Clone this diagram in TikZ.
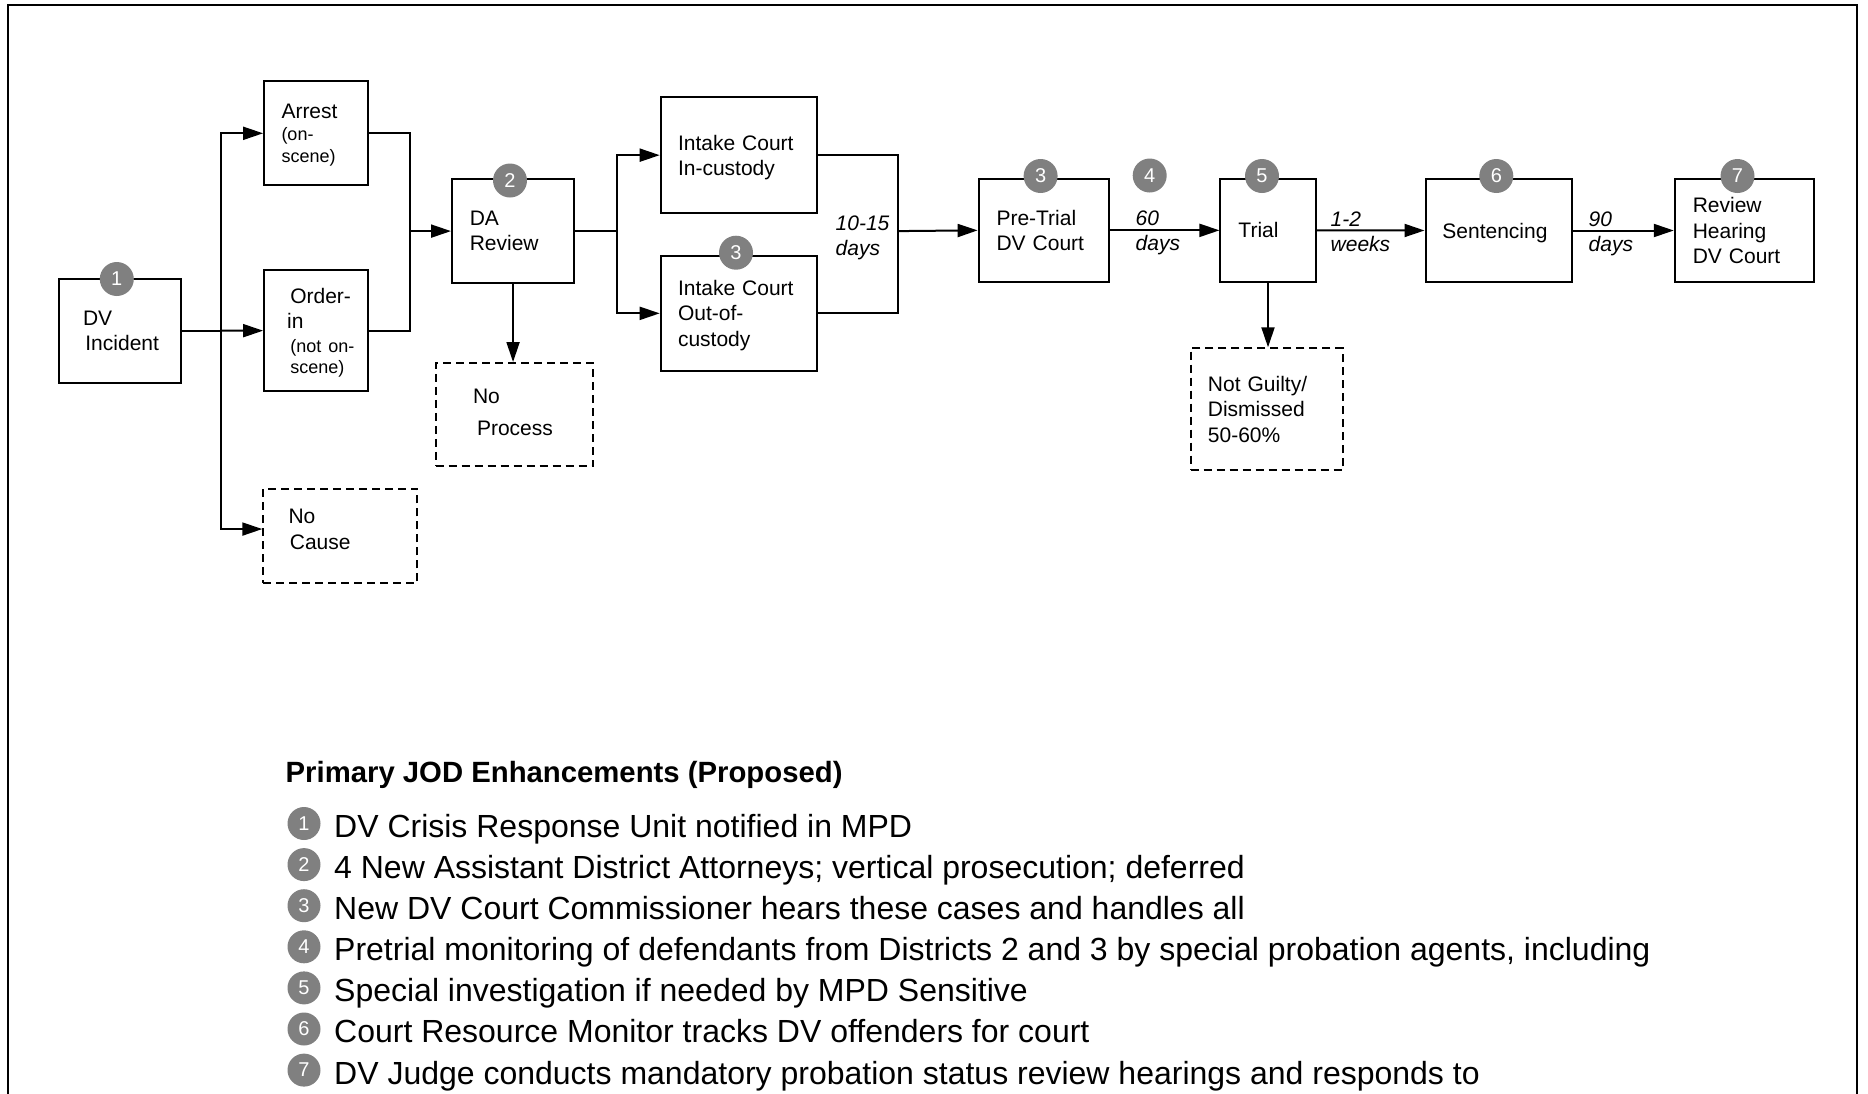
\documentclass[tikz,border=0pt]{standalone}
\usepackage{fontspec}
\setmainfont{Liberation Sans}
\usetikzlibrary{arrows.meta}
\definecolor{numgray}{HTML}{808080}
\begin{document}
\begin{tikzpicture}[x=1pt,y=-1pt,
  box/.style={draw, line width=2pt, align=left, inner ysep=0pt,
    font=\fontsize{21}{25.5}\selectfont},
  dbox/.style={box, dash pattern=on 8pt off 5pt},
  num/.style={circle, fill=numgray, minimum size=34pt, inner sep=0pt,
    text=white, font=\fontsize{20}{20}\selectfont},
  lnum/.style={num, minimum size=33pt},
  arr/.style={line width=2pt, -{Triangle[length=20pt,width=13pt]}},
  ln/.style={line width=2pt},
  lab/.style={font=\fontsize{21}{25}\selectfont\itshape, align=left,
    anchor=base west, inner sep=0pt},
  legtxt/.style={font=\fontsize{32}{36}\selectfont, anchor=base west, inner sep=0pt},
  legtitle/.style={font=\fontsize{29.3}{34}\selectfont\bfseries, anchor=base west, inner sep=0pt}
]
\useasboundingbox (0,0) rectangle (1868,1093);
% frame
\draw[line width=2pt] (8,1100) -- (8,5) -- (1857,5) -- (1857,1100);

% boxes
\node[box, minimum width=122.2pt, minimum height=104pt, inner xsep=24.5pt, text width=73.2pt]
  (inc) at (119.6,330.7) {\mbox{DV}\\\mbox{\hspace*{2.4pt}Incident}};
\node[box, minimum width=104pt, minimum height=104pt, inner xsep=17.4pt, text width=69.2pt, text depth=44.5pt]
  (arrest) at (316.1,133.3) {\mbox{Arrest}\\[-3pt]\mbox{\fontsize{18}{21}\selectfont (on-}\\[-3.5pt]\mbox{\fontsize{18}{21}\selectfont scene)}};
\node[box, minimum width=104pt, minimum height=121.3pt, inner xsep=23pt, text width=58pt, text depth=70.5pt]
  (orderin) at (316.1,330.65) {\mbox{\hspace*{3.2pt}Order-}\\\mbox{in}\\[-2pt]\mbox{\hspace*{3.2pt}\fontsize{18}{21}\selectfont (not on-}\\[-4pt]\mbox{\hspace*{3.2pt}\fontsize{18}{21}\selectfont scene)}};
\node[dbox, minimum width=153.9pt, minimum height=94.7pt, inner xsep=25.2pt, text width=103.5pt]
  (nocause) at (340.25,536.05) {\mbox{No}\\\mbox{\hspace*{1.4pt}Cause}\\[-11.5pt]\mbox{}};
\node[box, minimum width=122.1pt, minimum height=104pt, inner xsep=17.8pt, text width=86.5pt]
  (da) at (513.05,231.1) {\mbox{DA}\\\mbox{Review}};
\node[dbox, minimum width=157.4pt, minimum height=103.3pt, inner xsep=37.3pt, text width=82.8pt]
  (noproc) at (514.4,414.65) {\mbox{No}\\[7pt]\mbox{\hspace*{4pt}Process}\\[-21pt]\mbox{}};
\node[box, minimum width=156.3pt, minimum height=115.7pt, inner xsep=17.3pt, text width=121.7pt, text depth=25.5pt]
  (intin) at (738.85,155.15) {\mbox{Intake Court}\\\mbox{In-custody}};
\node[box, minimum width=156.3pt, minimum height=115.3pt, inner xsep=17.3pt, text width=121.7pt, text depth=51pt]
  (intout) at (738.85,313.35) {\mbox{Intake Court}\\\mbox{Out-of-}\\\mbox{custody}};
\node[box, minimum width=130.3pt, minimum height=103.3pt, inner xsep=17.9pt, text width=94.5pt]
  (pre) at (1043.75,230.35) {\mbox{Pre-Trial}\\\mbox{DV Court}};
\node[box, minimum width=95.1pt, minimum height=103.3pt, inner xsep=18pt, text width=59.1pt]
  (trial) at (1268,230.35) {\mbox{Trial}};
\node[dbox, minimum width=152pt, minimum height=121.7pt, inner xsep=17.3pt, text width=117.4pt]
  (ng) at (1266.6,409.15) {\mbox{Not Guilty/}\\\mbox{Dismissed}\\\mbox{50-60\%}};
\node[box, minimum width=146.5pt, minimum height=103.6pt, inner xsep=16.9pt, text width=112.7pt, text depth=0pt]
  (sent) at (1498.75,230.5) {\mbox{Sentencing}};
\node[box, minimum width=139.2pt, minimum height=103.6pt, inner xsep=18pt, text width=103.2pt]
  (rev) at (1744.4,230.5) {\mbox{Review}\\\mbox{Hearing}\\\mbox{DV Court}};

% junction points
\coordinate (s1) at (221.4,330.7);
\coordinate (j1) at (410,231.1);
\coordinate (s2) at (617,231.1);
\coordinate (j2) at (897.8,231.1);

% connectors
\draw[ln] (inc.east) -- (s1);
\draw[arr] (s1) |- (arrest.west);
\draw[arr] (s1) -- (orderin.west);
\draw[arr] (s1) |- ([yshift=7pt]nocause.west);
\draw[ln] (arrest.east) -| (j1) |- (orderin.east);
\draw[arr] (j1) -- (da.west);
\draw[arr] (da.south) -- (da.south |- noproc.north);
\draw[ln] (da.east) -- (s2);
\draw[arr] (s2) |- (intin.west);
\draw[arr] (s2) |- (intout.west);
\draw[ln] (intin.east) -| (j2) |- (intout.east);
\draw[arr] (j2) -- (pre.west);
\draw[arr] (pre.east) -- (trial.west);
\draw[arr] (trial.south) -- (trial.south |- ng.north);
\draw[arr] (trial.east) -- (sent.west);
\draw[arr] (sent.east) -- (rev.west);

% connector labels (anchored at the baseline of the last line)
\node[lab] (l1) at (835.5,255.7) {10-15\\days};
\node[lab] (l2) at (1135.5,250.7) {60\\days};
\node[lab] (l3) at (1330.5,251.7) {1-2\\weeks};
\node[lab] (l4) at (1588.5,251.7) {90\\days};

% numbered markers
\node[num] (c1) at (116.8,279) {1};
\node[num] (c2) at (510,180.5) {2};
\node[num] (c3a) at (736,252.7) {3};
\node[num] (c3b) at (1040.6,176) {3};
\node[num] (c4) at (1149.7,175.5) {4};
\node[num] (c5) at (1262,176) {5};
\node[num] (c6) at (1496.3,176) {6};
\node[num] (c7) at (1737.5,176) {7};

% legend
\node[legtitle] (ttl) at (285.5,782) {Primary JOD Enhancements (Proposed)};
\foreach \i/\t [count=\k from 0] in {
  1/DV Crisis Response Unit notified in MPD,
  2/4 New Assistant District Attorneys; vertical prosecution; deferred,
  3/New DV Court Commissioner hears these cases and handles all,
  4/{Pretrial monitoring of defendants from Districts 2 and 3 by special probation agents, including},
  5/Special investigation if needed by MPD Sensitive,
  6/Court Resource Monitor tracks DV offenders for court,
  7/DV Judge conducts mandatory probation status review hearings and responds to}{
  \node[lnum] (ln\i) at (304,823.5+41.1*\k) {\i};
  \node[legtxt] (lt\i) at (334,837.4+41.1*\k) {\t};
}
\end{tikzpicture}
\end{document}
